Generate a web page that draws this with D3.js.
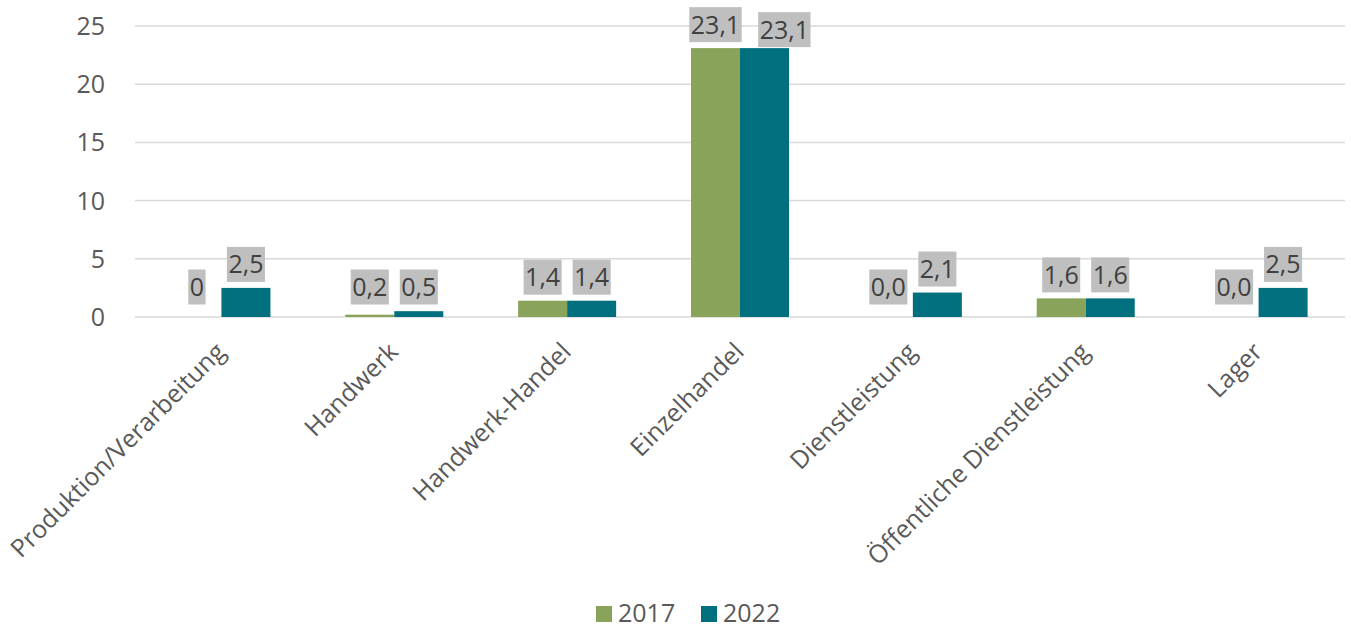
<!DOCTYPE html>
<html>
<head>
<meta charset="utf-8">
<script src="https://cdn.jsdelivr.net/npm/d3@7"></script>
<style>
  html, body { margin: 0; padding: 0; background: #fff; }
  svg { display: block; font-family: "Open Sans", "Noto Sans", sans-serif; }
</style>
</head>
<body>
<svg id="chart" width="1351" height="630"></svg>
<script>
const categories = ["Produktion/Verarbeitung", "Handwerk", "Handwerk-Handel", "Einzelhandel", "Dienstleistung", "Öffentliche Dienstleistung", "Lager"];
const seriesNames = ["2017", "2022"];
const values2017 = [0, 0.2, 1.4, 23.1, 0.0, 1.6, 0.0];
const values2022 = [2.5, 0.5, 1.4, 23.1, 2.1, 1.6, 2.5];
const labels2017 = ["0", "0,2", "1,4", "23,1", "0,0", "1,6", "0,0"];
const labels2022 = ["2,5", "0,5", "1,4", "23,1", "2,1", "1,6", "2,5"];
const yTicks = [0, 5, 10, 15, 20, 25];
const colors = ["#8aa35a", "#00707f"];

const svg = d3.select("#chart");
const plotLeft = 135, plotRight = 1345, plotTop = 26, plotBottom = 317;

const x0 = d3.scaleBand().domain(categories).range([plotLeft, plotRight]).paddingInner(0.433).paddingOuter(0.2165);
const x1 = d3.scaleBand().domain(seriesNames).range([0, x0.bandwidth()]);
const y = d3.scaleLinear().domain([0, 25]).range([plotBottom, plotTop]);

// gridlines
svg.append("g").selectAll("line").data(yTicks).join("line")
  .attr("x1", plotLeft).attr("x2", plotRight)
  .attr("y1", d => y(d)).attr("y2", d => y(d))
  .attr("stroke", "#d9d9d9").attr("stroke-width", 1.5);

// y tick labels
svg.append("g").selectAll("text").data(yTicks).join("text")
  .attr("x", 105).attr("y", d => y(d)).attr("dy", "0.36em")
  .attr("text-anchor", "end").attr("font-size", 25).attr("fill", "#595959")
  .text(d => d);

const series = [
  { name: seriesNames[0], values: values2017, labels: labels2017, color: colors[0] },
  { name: seriesNames[1], values: values2022, labels: labels2022, color: colors[1] }
];

const bars = [];
series.forEach(s => {
  categories.forEach((c, i) => bars.push({ cat: c, idx: i, name: s.name, v: s.values[i], label: s.labels[i], color: s.color }));
});

svg.append("g").selectAll("rect").data(bars).join("rect")
  .attr("x", d => x0(d.cat) + x1(d.name))
  .attr("width", x1.bandwidth())
  .attr("y", d => y(d.v))
  .attr("height", d => y(0) - y(d.v))
  .attr("fill", d => d.color);

// data labels (with simple collision avoidance between the two labels of a category)
const lg = svg.append("g").attr("font-size", 25);
const placed = {};
bars.forEach(d => {
  let cx = x0(d.cat) + x1(d.name) + x1.bandwidth() / 2;
  let cy = Math.min(y(d.v) - 6 - 17.5, 287);
  const g = lg.append("g");
  const t = g.append("text").attr("fill", "#404040").attr("text-anchor", "middle").attr("dy", "0.36em").text(d.label);
  const w = t.node().getComputedTextLength();
  const prev = placed[d.idx];
  if (prev && Math.abs(prev.cy - cy) < 35 && (cx - w / 2) - prev.right < 12) {
    cx += 18 - ((cx - w / 2) - prev.right);
    cy += 5;
  }
  t.attr("x", cx).attr("y", cy);
  g.insert("rect", "text").attr("x", cx - w / 2 - 1.5).attr("y", cy - 17.5)
    .attr("width", w + 3).attr("height", 35).attr("fill", "#bfbfbf");
  placed[d.idx] = { right: cx + w / 2 + 1.5, cy: cy };
});

// category labels
svg.append("g").selectAll("text").data(categories).join("text")
  .attr("transform", d => `translate(${x0(d) + x0.bandwidth() / 2 - 1},${plotBottom + 30}) rotate(-45)`)
  .attr("text-anchor", "end").attr("dy", "0.36em")
  .attr("font-size", 25).attr("fill", "#595959")
  .text(d => d);

// legend
const legendX = [596, 701];
const leg = svg.append("g");
series.forEach((s, i) => {
  leg.append("rect").attr("x", legendX[i]).attr("y", 606).attr("width", 16).attr("height", 16).attr("fill", s.color);
  leg.append("text").attr("x", legendX[i] + 22).attr("y", 622).attr("font-size", 25).attr("fill", "#595959").text(s.name);
});
</script>
</body>
</html>
